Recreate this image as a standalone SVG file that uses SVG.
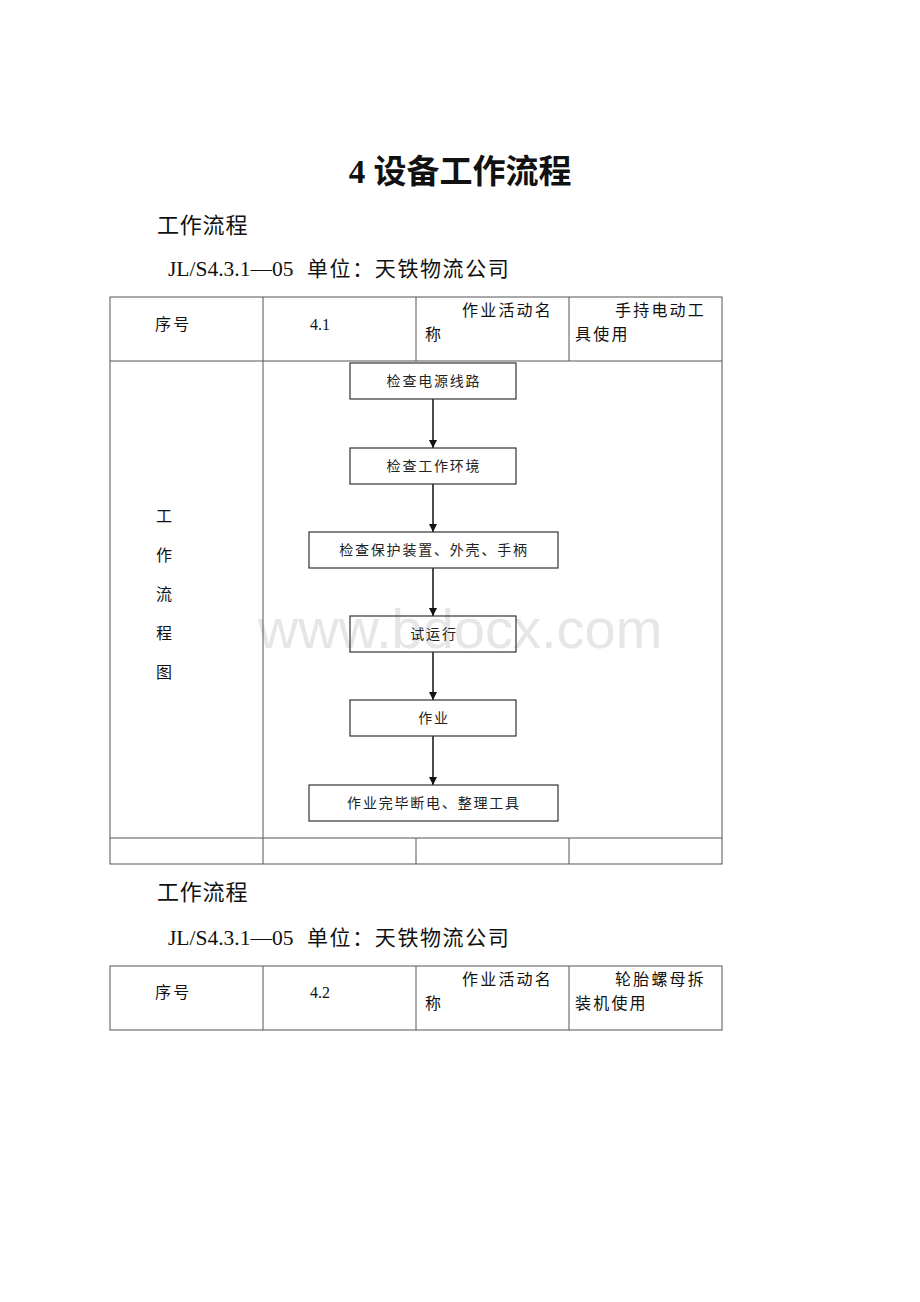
<svg xmlns="http://www.w3.org/2000/svg" width="920" height="1302" viewBox="0 0 920 1302">
<style>
.t{font-family:"Liberation Serif","Noto Sans CJK SC",serif;fill:#111}
.grid{stroke:#555;stroke-width:1;fill:none}
.box{stroke:#333;stroke-width:1.2;fill:none}
.bt{font-family:"Liberation Serif","Noto Sans CJK SC",serif;font-size:14px;letter-spacing:1.8px;fill:#222;text-anchor:middle}
.cell{font-size:16px;letter-spacing:2.2px}
.ns{letter-spacing:0}
.conn{stroke:#111;stroke-width:1.5;fill:none}
</style>
<defs>
<marker id="ah" viewBox="0 0 10 10" refX="10" refY="5" markerWidth="8" markerHeight="8" markerUnits="userSpaceOnUse" orient="auto">
<path d="M0,0 L10,5 L0,10 Z" fill="#111"/>
</marker>
</defs>
<rect width="920" height="1302" fill="#fff"/>
<text x="460" y="648" font-family="Liberation Sans, Arial, sans-serif" font-size="56" fill="#e6e6e6" text-anchor="middle">www.bdocx.com</text>

<text class="t" x="460" y="183" font-size="33" font-weight="bold" text-anchor="middle">4 设备工作流程</text>
<text class="t" x="157" y="233" font-size="22" letter-spacing="0.8">工作流程</text>
<text class="t" x="168" y="276" font-size="21.5">JL/S4.3.1—05<tspan x="307" font-size="21" letter-spacing="1.6">单位：天铁物流公司</tspan></text>

<g id="table1">
<rect class="grid" x="110" y="297" width="612" height="567"/>
<line class="grid" x1="110" y1="361" x2="722" y2="361"/>
<line class="grid" x1="110" y1="838" x2="722" y2="838"/>
<line class="grid" x1="263" y1="297" x2="263" y2="864"/>
<line class="grid" x1="416" y1="297" x2="416" y2="361"/>
<line class="grid" x1="569" y1="297" x2="569" y2="361"/>
<line class="grid" x1="416" y1="838" x2="416" y2="864"/>
<line class="grid" x1="569" y1="838" x2="569" y2="864"/>
<text class="t cell" x="155" y="330">序号</text>
<text class="t cell ns" x="310" y="330">4.1</text>
<text class="t cell" x="462" y="316">作业活动名</text>
<text class="t cell" x="425" y="340">称</text>
<text class="t cell" x="615" y="316">手持电动工</text>
<text class="t cell" x="575" y="340">具使用</text>
<text class="t cell ns" x="164" y="522" text-anchor="middle">工</text>
<text class="t cell ns" x="164" y="561" text-anchor="middle">作</text>
<text class="t cell ns" x="164" y="600" text-anchor="middle">流</text>
<text class="t cell ns" x="164" y="639" text-anchor="middle">程</text>
<text class="t cell ns" x="164" y="678" text-anchor="middle">图</text>
</g>

<g id="connectors">
<line class="conn" x1="433" y1="399" x2="433" y2="448" marker-end="url(#ah)"/>
<line class="conn" x1="433" y1="484" x2="433" y2="532" marker-end="url(#ah)"/>
<line class="conn" x1="433" y1="568" x2="433" y2="616" marker-end="url(#ah)"/>
<line class="conn" x1="433" y1="652" x2="433" y2="700" marker-end="url(#ah)"/>
<line class="conn" x1="433" y1="736" x2="433" y2="785" marker-end="url(#ah)"/>
</g>

<g id="n1"><rect class="box" x="350" y="363" width="166" height="36"/><text class="bt" x="434" y="386">检查电源线路</text></g>
<g id="n2"><rect class="box" x="350" y="448" width="166" height="36"/><text class="bt" x="434" y="471">检查工作环境</text></g>
<g id="n3"><rect class="box" x="309" y="532" width="249" height="36"/><text class="bt" x="434" y="555">检查保护装置、外壳、手柄</text></g>
<g id="n4"><rect class="box" x="350" y="616" width="166" height="36"/><text class="bt" x="434" y="639">试运行</text></g>
<g id="n5"><rect class="box" x="350" y="700" width="166" height="36"/><text class="bt" x="434" y="723">作业</text></g>
<g id="n6"><rect class="box" x="309" y="785" width="249" height="36"/><text class="bt" x="434" y="808">作业完毕断电、整理工具</text></g>

<text class="t" x="157" y="900" font-size="22" letter-spacing="0.8">工作流程</text>
<text class="t" x="168" y="945" font-size="21.5">JL/S4.3.1—05<tspan x="307" font-size="21" letter-spacing="1.6">单位：天铁物流公司</tspan></text>

<g id="table2">
<rect class="grid" x="110" y="966" width="612" height="64"/>
<line class="grid" x1="263" y1="966" x2="263" y2="1030"/>
<line class="grid" x1="416" y1="966" x2="416" y2="1030"/>
<line class="grid" x1="569" y1="966" x2="569" y2="1030"/>
<text class="t cell" x="155" y="998">序号</text>
<text class="t cell ns" x="310" y="998">4.2</text>
<text class="t cell" x="462" y="985">作业活动名</text>
<text class="t cell" x="425" y="1009">称</text>
<text class="t cell" x="615" y="985">轮胎螺母拆</text>
<text class="t cell" x="575" y="1009">装机使用</text>
</g>
</svg>
